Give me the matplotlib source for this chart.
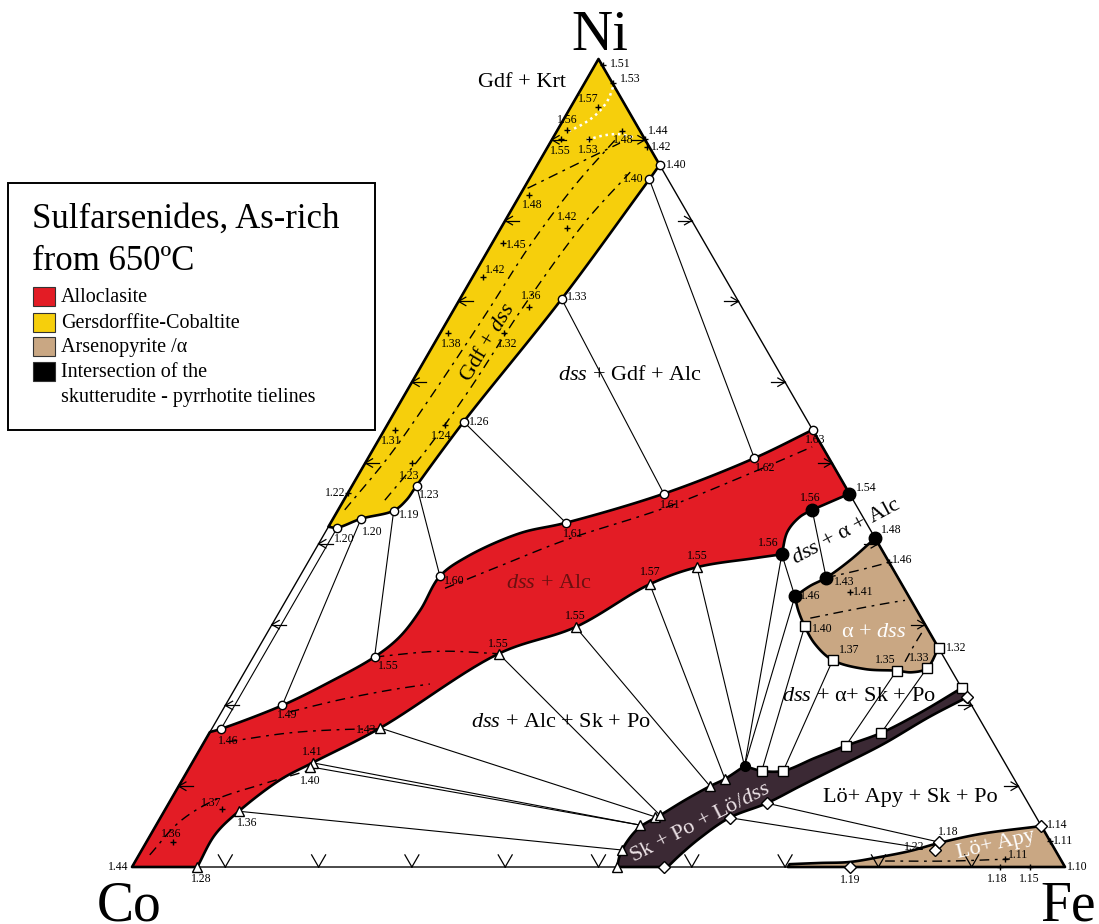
import numpy as np
import matplotlib
matplotlib.use('Agg')
import matplotlib.pyplot as plt
from matplotlib.patches import Polygon, Rectangle

plt.rcParams['font.family'] = ['Liberation Serif', 'DejaVu Serif']
plt.rcParams['mathtext.fontset'] = 'custom'
plt.rcParams['mathtext.rm'] = 'Liberation Serif'
plt.rcParams['mathtext.it'] = 'Liberation Serif:italic'

# compositions as at.% (Fe, Ni); Co is the remainder.
# each field is a chain of boundary pieces: (points, curved?)
gdf_field = [([(0, 100), (13.1, 86.9), (12.9, 85.1)], False),
             ([(12.9, 85.1), (10.9, 70.3), (8.0, 55.1), (6.9, 47.2), (6.7, 45.4), (6.0, 44.1),
               (3.0, 43.1), (1.0, 42.0), (0, 42.1)], True)]
alc_field = [([(0, 16.7), (1.0, 17.1), (6.1, 20.0), (9.75, 22.9), (13.0, 26.0), (14.45, 28.5),
               (15.0, 31.8), (15.0, 36.0), (16.7, 38.4), (20.9, 41.3), (25.2, 42.6), (33.9, 46.2),
               (41.4, 50.6), (45.9, 54.1)], True),
             ([(45.9, 54.1), (53.8, 46.2), (50.8, 44.2)], False),
             ([(50.8, 44.2), (49.9, 43.3), (49.5, 41.5), (50.3, 38.7)], True),
             ([(50.3, 38.7), (47.5, 38.2), (42.0, 37.1), (38.0, 35.0), (32.7, 29.7), (26.1, 26.4),
               (18.0, 17.2), (12.9, 12.9), (10.5, 10.8), (8.0, 6.9), (6.9, 4.0), (7.0, 0)], True),
             ([(7.0, 0), (0, 0)], False)]
apy_field = [([(59.3, 40.7), (72.9, 27.1)], False),
             ([(72.9, 27.1), (72.9, 24.6), (71.55, 24.1), (69.8, 24.3), (66.3, 24.5), (62.3, 25.6),
               (59.4, 27.6), (57.2, 29.8), (55.5, 31.8), (54.3, 33.5)], True),
             ([(54.3, 33.5), (55.3, 34.8), (56.5, 35.8), (58.0, 38.0), (59.3, 40.7)], True)]
skpo_band = [([(52.0, 0), (51.55, 1.5), (51.5, 3.3), (51.97, 4.95), (53.4, 6.4), (55.15, 8.3),
               (56.95, 10.0), (58.1, 10.9), (59.4, 12.5)], True),
             ([(59.4, 12.5), (61.55, 11.9), (63.85, 11.9), (66.45, 13.5), (69.0, 15.0),
               (72.0, 16.6), (74.9, 19.06), (77.85, 22.15)], True),
             ([(77.85, 22.15), (79.0, 21.0)], False),
             ([(79.0, 21.0), (76.2, 18.6), (72.9, 15.2), (69.65, 12.5), (66.6, 10.0), (64.1, 7.9),
               (61.0, 6.1), (59.1, 3.6), (58.0, 1.5), (57.4, 0)], True)]
lo_field = [([(70.3, 0.35), (73.5, 0.5), (76.6, 0.62), (79.55, 1.24), (82.4, 1.98), (85.0, 2.97),
              (88.85, 4.08), (94.93, 5.07)], True),
            ([(94.93, 5.07), (100, 0), (70.3, 0)], False)]

tie_lines = [((12.9, 85.1), (41.4, 50.6)), ((10.9, 70.3), (33.9, 46.2)), ((8.0, 55.1), (25.2, 42.6)),
             ((6.9, 47.2), (15.0, 36.0)), ((6.0, 44.1), (13.0, 26.0)), ((3.0, 43.1), (6.1, 20.0)),
             ((1.0, 42.0), (1.0, 17.1)),
             ((50.8, 44.2), (56.5, 35.8)), ((50.3, 38.7), (54.3, 33.5)),
             ((26.1, 26.4), (53.4, 6.4)), ((32.7, 29.7), (56.95, 10.0)), ((38.0, 35.0), (58.1, 10.9)),
             ((42.0, 37.1), (59.4, 12.5)), ((50.3, 38.7), (59.4, 12.5)), ((54.3, 33.5), (59.4, 12.5)),
             ((18.0, 17.2), (53.0, 6.2)), ((12.9, 12.9), (51.8, 5.2)), ((12.9, 12.4), (51.8, 5.2)),
             ((8.0, 6.9), (51.5, 2.1)),
             ((57.2, 29.8), (61.55, 11.9)), ((62.3, 25.6), (63.85, 11.9)), ((69.8, 24.3), (69.0, 15.0)),
             ((72.9, 24.6), (72.0, 16.6)),
             ((64.1, 7.9), (84.9, 3.1)), ((61.0, 6.1), (85.0, 2.1))]

# isopleths (dashed) and the white dotted ones near Ni
dashed_lines = [
    [(0.7, 44.2), (2.15, 51.0), (3.0, 59.0), (3.7, 68.3), (4.2, 77.0), (5.3, 84.4), (6.8, 90.0)],
    [(4.4, 45.4), (5.7, 51.4), (6.6, 58.8), (7.3, 69.6), (8.65, 79.8), (10.4, 86.0)],
    [(0.4, 84.0), (4.05, 86.9), (7.5, 89.6)],
    [(16.3, 34.5), (20.8, 37.25), (26.3, 40.5), (34.8, 44.4), (42.2, 48.9), (46.9, 52.0)],
    [(13.0, 26.0), (19.65, 26.7), (26.1, 26.4)],
    [(2.5, 15.5), (8.6, 16.6), (13.8, 17.0), (17.85, 17.1)],
    [(1.15, 1.5), (2.3, 5.6), (4.75, 8.3), (8.6, 10.15), (13.1, 12.0)],
    [(7.3, 19.2), (11.95, 20.7), (16.7, 21.9), (20.6, 22.65)],
    [(57.3, 30.8), (61.1, 31.8), (64.85, 32.7), (66.35, 33.0)],
    [(56.5, 35.8), (59.6, 36.75), (62.3, 37.7)],
    [(70.15, 25.4), (70.1, 27.2), (70.15, 29.1)],
    [(80.35, 0.74), (87.3, 0.74), (93.6, 0.99)],
]
dotted_white = [
    [(3.3, 96.5), (3.55, 94.9), (3.25, 93.3), (2.5, 92.1), (1.35, 91.1)],
    [(3.8, 90.0), (5.15, 90.5), (6.75, 90.7), (8.65, 90.3)],
]

circ_pts = [(13.1, 86.9), (12.9, 85.1), (10.9, 70.3), (8.0, 55.1), (6.9, 47.2), (6.0, 44.1),
            (3.0, 43.1), (1.0, 42.0), (1.0, 17.1), (6.1, 20.0), (13.0, 26.0), (15.0, 36.0),
            (25.2, 42.6), (33.9, 46.2), (41.4, 50.6), (45.9, 54.1)]
circ_vals = ['1.40', '1.40', '1.33', '1.26', '1.23', '1.19', '1.20', '1.20', '1.46', '1.49',
             '1.55', '1.60', '1.61', '1.61', '1.62', '1.63']
dot_pts = [(53.8, 46.2), (50.8, 44.2), (50.3, 38.7), (59.3, 40.7), (56.5, 35.8), (54.3, 33.5)]
dot_vals = ['1.54', '1.56', '1.56', '1.48', '1.43', '1.46']
tri_pts = [(42.0, 37.1), (38.0, 35.0), (32.7, 29.7), (26.1, 26.4), (18.0, 17.2), (12.9, 12.9),
           (12.9, 12.4), (8.0, 6.9), (7.0, 0)]
tri_vals = ['1.55', '1.57', '1.55', '1.55', '1.43', '1.41', '1.40', '1.36', '1.28']
sq_pts = [(57.2, 29.8), (62.3, 25.6), (69.8, 24.3), (72.9, 24.6), (72.9, 27.1)]
sq_vals = ['1.40', '1.37', '1.35', '1.33', '1.32']
dia_pts = [(77.0, 0), (85.0, 2.1), (84.9, 3.1), (94.9, 5.1)]
dia_vals = ['1.19', '1.22', '1.18', '1.14']
cross_pts = [(0.8, 99.3), (3.1, 97.0), (2.9, 94.1), (1.0, 91.2), (0.9, 90.1), (3.9, 90.1),
             (6.95, 91.1), (9.9, 90.1), (10.6, 89.1), (1.0, 83.2), (7.05, 79.1), (1.2, 77.2),
             (1.1, 73.0), (7.9, 69.3), (0.8, 66.1), (6.8, 66.1), (1.1, 54.1), (6.2, 54.7),
             (5.0, 50.0), (0, 46.3), (6.0, 7.2), (2.85, 3.1), (60.0, 34.0), (62.3, 37.7),
             (93.1, 1.0), (96.8, 3.2), (100, 0), (93.0, 0), (96.2, 0), (0, 0)]
cross_vals = ['1.51', '1.53', '1.57', '1.56', '1.55', '1.53', '1.48', '1.44', '1.42', '1.48',
              '1.42', '1.45', '1.42', '1.36', '1.38', '1.32', '1.31', '1.24', '1.23', '1.22',
              '1.37', '1.36', '1.41', '1.46', '1.11', '1.11', '1.10', '1.18', '1.15', '1.44']
# tie-line ends on the Sk + Po + Lo/dss band
band_tri = [(51.5, 2.1), (51.8, 5.2), (53.0, 6.2), (53.4, 6.4), (56.95, 10.0), (58.1, 10.9), (52.0, 0)]
band_sq = [(61.55, 11.9), (63.85, 11.9), (69.0, 15.0), (72.0, 16.6), (77.85, 22.15)]
band_dia = [(79.0, 21.0), (64.1, 7.9), (61.0, 6.1), (57.0, 0)]
band_node = [(59.4, 12.5)]
grid_steps = [10, 20, 30, 40, 50, 60, 70, 80, 90]

RED = '#e31c25'
YELLOW = '#f6cf0c'
TAN = '#c9a783'
DARK = '#3b2934'


def tern(pts):
    a = np.asarray(pts, float)
    fe, ni = a[:, 0], a[:, 1]
    return np.column_stack([(fe + ni / 2) / 100, ni * np.sqrt(3) / 200])


def spline(P, n=14, alpha=0.5):
    # centripetal Catmull-Rom through the given points
    P = np.asarray(P, float)
    if len(P) < 3:
        return P
    ext = np.vstack([2 * P[0] - P[1], P, 2 * P[-1] - P[-2]])
    out = []
    for i in range(1, len(ext) - 2):
        p0, p1, p2, p3 = ext[i - 1:i + 3]
        t0 = 0.0
        t1 = t0 + max(np.linalg.norm(p1 - p0), 1e-9) ** alpha
        t2 = t1 + max(np.linalg.norm(p2 - p1), 1e-9) ** alpha
        t3 = t2 + max(np.linalg.norm(p3 - p2), 1e-9) ** alpha
        t = np.linspace(t1, t2, n, endpoint=False)[:, None]
        a1 = (t1 - t) / (t1 - t0) * p0 + (t - t0) / (t1 - t0) * p1
        a2 = (t2 - t) / (t2 - t1) * p1 + (t - t1) / (t2 - t1) * p2
        a3 = (t3 - t) / (t3 - t2) * p2 + (t - t2) / (t3 - t2) * p3
        b1 = (t2 - t) / (t2 - t0) * a1 + (t - t0) / (t2 - t0) * a2
        b2 = (t3 - t) / (t3 - t1) * a2 + (t - t1) / (t3 - t1) * a3
        out.append((t2 - t) / (t2 - t1) * b1 + (t - t1) / (t2 - t1) * b2)
    out.append(P[-1:])
    return np.vstack(out)


def outline(pieces):
    parts = []
    for pts, curved in pieces:
        xy = tern(pts)
        parts.append(spline(xy) if curved else xy)
    return np.vstack(parts)


fig = plt.figure(figsize=(10.99, 9.24), dpi=100)
ax = fig.add_axes([0, 0, 1, 1])
ax.set_xlim(-0.14148, 1.03644)
ax.set_ylim(-0.06109, 0.92926)
ax.axis('off')

for field, col in [(gdf_field, YELLOW), (alc_field, RED), (apy_field, TAN),
                   (lo_field, TAN), (skpo_band, DARK)]:
    ax.add_patch(Polygon(outline(field), closed=True, facecolor=col, edgecolor='black',
                         lw=1.9, joinstyle='round', zorder=3))

ax.add_patch(Polygon(tern([(0, 0), (100, 0), (0, 100)]), closed=True, fill=False,
                     edgecolor='black', lw=1.0, zorder=2))

for a, b in tie_lines:
    xy = tern([a, b])
    ax.plot(xy[:, 0], xy[:, 1], color='black', lw=0.8, zorder=2)

for line in dashed_lines:
    xy = spline(tern(line))
    ax.plot(xy[:, 0], xy[:, 1], color='black', lw=1.0, dashes=(7, 4, 2, 4), zorder=4)
for line in dotted_white:
    xy = spline(tern(line))
    ax.plot(xy[:, 0], xy[:, 1], color='white', lw=1.8, ls=(0, (1, 1.5)), zorder=4)

# edge ticks every 10 %
L = 0.015
def arms(p, angles, lengths):
    for ang, ln in zip(angles, lengths):
        t = np.deg2rad(ang)
        ax.plot([p[0], p[0] + ln * np.cos(t)], [p[1], p[1] + ln * np.sin(t)],
                color='black', lw=0.9, zorder=4)

for k in grid_steps:
    arms(tern([(k, 0)])[0], [60, 120], [L, L])
    arms(tern([(100 - k, k)])[0], [180, 150, 210], [L, 0.6 * L, 0.6 * L])
    arms(tern([(0, k)])[0], [0, 30, -30], [L, 0.6 * L, 0.6 * L])

# markers
def mark(pts, marker, ms, fc, ec='black', mew=1.0):
    xy = tern(pts)
    ax.plot(xy[:, 0], xy[:, 1], ls='none', marker=marker, ms=ms, mfc=fc, mec=ec,
            mew=mew, zorder=5)

mark(circ_pts, 'o', 6, 'white')
mark(dot_pts, 'o', 9, 'black')
mark(tri_pts, '^', 7, 'white')
mark(band_tri, '^', 7, 'white')
mark(band_node, 'o', 7, 'black')
mark(sq_pts, 's', 7, 'white')
mark(band_sq, 's', 7, 'white')
mark(dia_pts, 'D', 6, 'white')
mark(band_dia, 'D', 6, 'white')
mark(cross_pts[:-4] + cross_pts[-3:-1], '+', 5, 'black')

circ_off = [(6, 0, 'left'), (-6, 0, 'right'), (5, 2, 'left'), (5, 0, 'left'), (2, -9, 'left'),
            (5, -4, 'left'), (1, -13, 'left'), (-3, -11, 'left'), (-3, -12, 'left'),
            (-5, -10, 'left'), (3, -9, 'left'), (4, -5, 'left'), (-3, -11, 'left'),
            (-4, -11, 'left'), (1, -10, 'left'), (-8, -10, 'left')]
dot_off = [(6, 6, 'left'), (-2, 12, 'center'), (-3, 11, 'right'), (6, 8, 'left'),
           (8, -4, 'left'), (5, 0, 'left')]
tri_off = [(0, 11, 'center'), (0, 12, 'center'), (0, 11, 'center'), (0, 10, 'center'),
           (-4, -2, 'right'), (0, 11, 'center'), (0, -14, 'center'), (8, -12, 'center'),
           (4, -12, 'center')]
sq_off = [(7, -3, 'left'), (6, 10, 'left'), (-11, 11, 'center'), (-8, 10, 'center'), (7, 0, 'left')]
dia_off = [(0, -13, 'center'), (-10, 3, 'right'), (10, 10, 'center'), (6, 1, 'left')]
cross_off = [(7, 1, 'left'), (7, 4, 'left'), (-10, 8, 'center'), (0, 10, 'center'),
             (0, -12, 'center'), (0, -11, 'center'), (1, -9, 'center'), (3, 8, 'left'),
             (4, 0, 'left'), (3, -10, 'center'), (0, 11, 'center'), (3, -2, 'left'),
             (12, 7, 'center'), (2, 11, 'center'), (3, -11, 'center'), (3, -11, 'center'),
             (-3, -11, 'center'), (-4, -11, 'center'), (-3, -13, 'center'), (-3, 0, 'right'),
             (-10, 6, 'center'), (-2, 8, 'center'), (3, 0, 'left'), (3, 2, 'left'),
             (3, 4, 'left'), (3, 0, 'left'), (2, 0, 'left'), (-2, -12, 'center'),
             (0, -12, 'center'), (-4, 0, 'right')]

def put_vals(pts, vals, offs):
    for (x, y), v, (dx, dy, ha) in zip(tern(pts), vals, offs):
        ax.annotate(v, (x, y), xytext=(dx, dy), textcoords='offset pixels',
                    ha=ha, va='center', fontsize=8.5, zorder=6)

put_vals(circ_pts, circ_vals, circ_off)
put_vals(dot_pts, dot_vals, dot_off)
put_vals(tri_pts, tri_vals, tri_off)
put_vals(sq_pts, sq_vals, sq_off)
put_vals(dia_pts, dia_vals, dia_off)
put_vals(cross_pts, cross_vals, cross_off)

# vertex names
fig.text(0.546, 0.946, 'Ni', fontsize=41, ha='center', va='baseline')
fig.text(0.088, 0.004, 'Co', fontsize=40, ha='left', va='baseline')
fig.text(0.947, 0.004, 'Fe', fontsize=40, ha='left', va='baseline')

# phase fields
fs = 16
fig.text(0.475, 0.911, 'Gdf + Krt', fontsize=fs, ha='center', va='center')
fig.text(0.573, 0.594, r'$\mathit{dss}$ + Gdf + Alc', fontsize=fs, ha='center', va='center')
fig.text(0.4995, 0.369, r'$\mathit{dss}$ + Alc', fontsize=fs, ha='center', va='center',
         color='#6b1010')
fig.text(0.510, 0.2186, r'$\mathit{dss}$ + Alc + Sk + Po', fontsize=fs, ha='center', va='center')
fig.text(0.770, 0.4242, r'$\mathit{dss}$ + α + Alc', fontsize=fs, ha='center', va='center',
         rotation=28, rotation_mode='anchor')
fig.text(0.795, 0.316, r'α + $\mathit{dss}$', fontsize=fs, ha='center', va='center', color='white')
fig.text(0.7816, 0.2457, r'$\mathit{dss}$ + α+ Sk + Po', fontsize=fs, ha='center', va='center')
fig.text(0.828, 0.1374, 'Lö+ Apy + Sk + Po', fontsize=fs, ha='center', va='center')
fig.text(0.906, 0.0855, 'Lö+ Apy', fontsize=fs, ha='center', va='center', color='white',
         rotation=13, rotation_mode='anchor')
fig.text(0.637, 0.109, r'Sk + Po + Lö/$\mathit{dss}$', fontsize=fs, ha='center', va='center',
         color='#ece2e6', rotation=27, rotation_mode='anchor')
fig.text(0.444, 0.629, r'Gdf + $\mathit{dss}$', fontsize=fs, ha='center', va='center',
         rotation=59, rotation_mode='anchor')

# key box
fig.add_artist(Rectangle((0.0073, 0.5346), 0.334, 0.2673, transform=fig.transFigure,
                         facecolor='white', edgecolor='black', lw=1.4, zorder=7))
fig.text(0.029, 0.7532, 'Sulfarsenides, As-rich', fontsize=25, va='baseline', zorder=8)
fig.text(0.029, 0.7078, 'from 650ºC', fontsize=25, va='baseline', zorder=8)
key_names = ['Alloclasite', 'Gersdorffite-Cobaltite', 'Arsenopyrite /α',
             'Intersection of the']
key_cols = [RED, YELLOW, TAN, 'black']
rows = [296, 322, 346, 371]
for name, col, r in zip(key_names, key_cols, rows):
    fig.add_artist(Rectangle((0.030, 1 - (r + 9.5) / 924), 0.020, 19 / 924,
                             transform=fig.transFigure, facecolor=col, edgecolor='#333333',
                             lw=0.8, zorder=8))
    fig.text(0.0555, 1 - (r + 6) / 924, name, fontsize=14.5, va='baseline', zorder=8)
fig.text(0.0555, 1 - 402 / 924, 'skutterudite - pyrrhotite tielines', fontsize=14.5,
         va='baseline', zorder=8)

fig.savefig('out.png', dpi=100)
